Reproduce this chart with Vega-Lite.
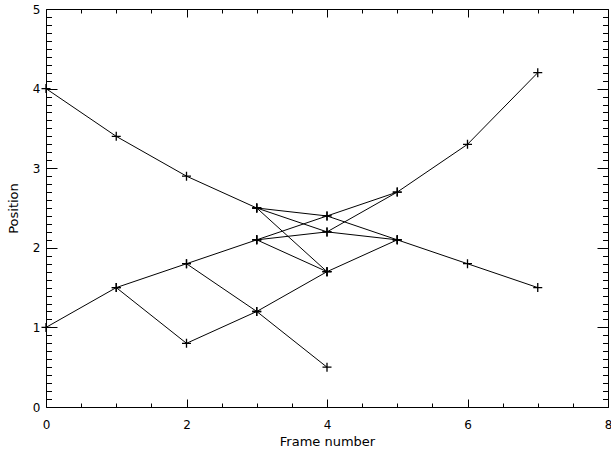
{
  "$schema": "https://vega.github.io/schema/vega-lite/v6.json",
  "width": 562,
  "height": 398,
  "autosize": {"type": "none"},
  "padding": {"left": 46, "top": 9, "right": 3, "bottom": 48},
  "background": "white",
  "config": {
    "view": {"stroke": null},
    "axis": {
      "grid": false,
      "domainColor": "#000",
      "domainWidth": 1,
      "tickColor": "#000",
      "tickWidth": 1,
      "labelColor": "#000",
      "titleColor": "#000",
      "labelFont": "DejaVu Sans",
      "titleFont": "DejaVu Sans",
      "labelFontSize": 12,
      "titleFontSize": 13,
      "titleFontWeight": "normal"
    }
  },
  "datasets": {
    "tracks": [
      {"track": "T1", "frame": 0, "pos": 4.0},
      {"track": "T1", "frame": 1, "pos": 3.4},
      {"track": "T1", "frame": 2, "pos": 2.9},
      {"track": "T1", "frame": 3, "pos": 2.5},
      {"track": "T1", "frame": 4, "pos": 2.2},
      {"track": "T1", "frame": 5, "pos": 2.1},
      {"track": "T1", "frame": 6, "pos": 1.8},
      {"track": "T1", "frame": 7, "pos": 1.5},
      {"track": "T2", "frame": 0, "pos": 1.0},
      {"track": "T2", "frame": 1, "pos": 1.5},
      {"track": "T2", "frame": 2, "pos": 1.8},
      {"track": "T2", "frame": 3, "pos": 2.1},
      {"track": "T2", "frame": 4, "pos": 2.4},
      {"track": "T2", "frame": 5, "pos": 2.7},
      {"track": "T2", "frame": 6, "pos": 3.3},
      {"track": "T2", "frame": 7, "pos": 4.2},
      {"track": "T3", "frame": 3, "pos": 2.5},
      {"track": "T3", "frame": 4, "pos": 2.4},
      {"track": "T3", "frame": 5, "pos": 2.1},
      {"track": "T4", "frame": 3, "pos": 2.5},
      {"track": "T4", "frame": 4, "pos": 1.7},
      {"track": "T4", "frame": 5, "pos": 2.1},
      {"track": "T5", "frame": 3, "pos": 2.1},
      {"track": "T5", "frame": 4, "pos": 2.2},
      {"track": "T5", "frame": 5, "pos": 2.7},
      {"track": "T6", "frame": 3, "pos": 2.1},
      {"track": "T6", "frame": 4, "pos": 1.7},
      {"track": "T7", "frame": 1, "pos": 1.5},
      {"track": "T7", "frame": 2, "pos": 0.8},
      {"track": "T7", "frame": 3, "pos": 1.2},
      {"track": "T7", "frame": 4, "pos": 1.7},
      {"track": "T8", "frame": 2, "pos": 1.8},
      {"track": "T8", "frame": 3, "pos": 1.2},
      {"track": "T8", "frame": 4, "pos": 0.5}
    ]
  },
  "data": {"name": "tracks"},
  "layer": [
    {
      "mark": {"type": "line", "color": "#000", "strokeWidth": 1},
      "encoding": {
        "x": {
          "field": "frame", "type": "quantitative",
          "scale": {"domain": [0, 8], "nice": false, "zero": false},
          "axis": {"orient": "bottom", "values": [0, 2, 4, 6, 8], "tickSize": -8, "labelPadding": 20, "labelFlush": false, "format": "d", "title": "Frame number", "titlePadding": 5}
        },
        "y": {
          "field": "pos", "type": "quantitative",
          "scale": {"domain": [0, 5], "nice": false, "zero": false},
          "axis": {"orient": "left", "values": [0, 1, 2, 3, 4, 5], "tickSize": -11, "labelPadding": 17, "format": "d", "title": "Position", "titlePadding": 12}
        },
        "detail": {"field": "track"},
        "order": {"field": "frame"}
      }
    },
    {
      "mark": {"type": "point", "shape": "M-1,0L1,0M0,-1L0,1", "size": 81, "filled": false, "color": "#000", "strokeWidth": 1.3, "opacity": 1},
      "encoding": {
        "x": {
          "field": "frame", "type": "quantitative",
          "scale": {"domain": [0, 8], "nice": false, "zero": false},
          "axis": {"orient": "bottom", "values": [0.5, 1, 1.5, 2.5, 3, 3.5, 4.5, 5, 5.5, 6.5, 7, 7.5], "tickSize": -4, "labels": false, "domain": false, "title": null}
        },
        "y": {
          "field": "pos", "type": "quantitative",
          "scale": {"domain": [0, 5], "nice": false, "zero": false},
          "axis": {"orient": "left", "values": [0.1,0.2,0.3,0.4,0.5,0.6,0.7,0.8,0.9,1.1,1.2,1.3,1.4,1.5,1.6,1.7,1.8,1.9,2.1,2.2,2.3,2.4,2.5,2.6,2.7,2.8,2.9,3.1,3.2,3.3,3.4,3.5,3.6,3.7,3.8,3.9,4.1,4.2,4.3,4.4,4.5,4.6,4.7,4.8,4.9], "tickSize": -5.5, "labels": false, "domain": false, "title": null}
        }
      }
    },
    {
      "mark": {"type": "point", "opacity": 0},
      "encoding": {
        "x": {
          "field": "frame", "type": "quantitative",
          "scale": {"domain": [0, 8], "nice": false, "zero": false},
          "axis": {"orient": "top", "values": [0, 2, 4, 6, 8], "tickSize": -8, "labels": false, "title": null}
        },
        "y": {
          "field": "pos", "type": "quantitative",
          "scale": {"domain": [0, 5], "nice": false, "zero": false},
          "axis": {"orient": "right", "values": [0, 1, 2, 3, 4, 5], "tickSize": -11, "labels": false, "title": null}
        }
      }
    },
    {
      "mark": {"type": "point", "opacity": 0},
      "encoding": {
        "x": {
          "field": "frame", "type": "quantitative",
          "scale": {"domain": [0, 8], "nice": false, "zero": false},
          "axis": {"orient": "top", "values": [0.5, 1, 1.5, 2.5, 3, 3.5, 4.5, 5, 5.5, 6.5, 7, 7.5], "tickSize": -4, "labels": false, "domain": false, "title": null}
        },
        "y": {
          "field": "pos", "type": "quantitative",
          "scale": {"domain": [0, 5], "nice": false, "zero": false},
          "axis": {"orient": "right", "values": [0.1,0.2,0.3,0.4,0.5,0.6,0.7,0.8,0.9,1.1,1.2,1.3,1.4,1.5,1.6,1.7,1.8,1.9,2.1,2.2,2.3,2.4,2.5,2.6,2.7,2.8,2.9,3.1,3.2,3.3,3.4,3.5,3.6,3.7,3.8,3.9,4.1,4.2,4.3,4.4,4.5,4.6,4.7,4.8,4.9], "tickSize": -5.5, "labels": false, "domain": false, "title": null}
        }
      }
    }
  ],
  "resolve": {"axis": {"x": "independent", "y": "independent"}}
}
